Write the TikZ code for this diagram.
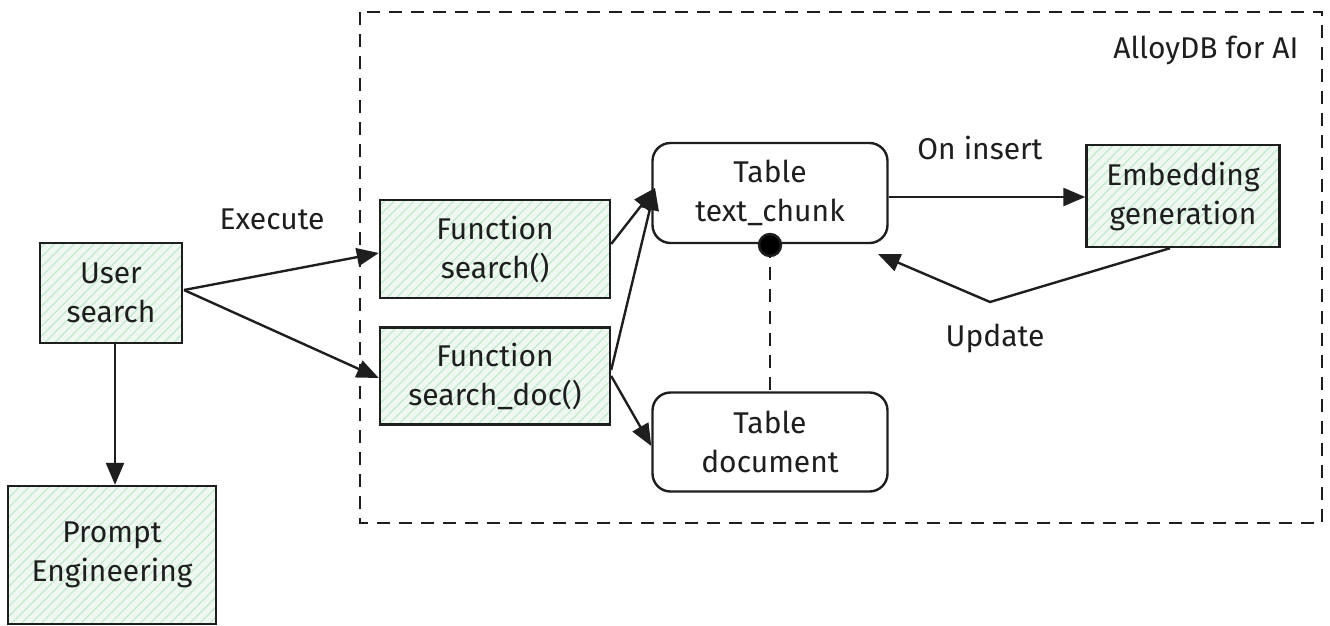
\documentclass[tikz,border=0pt]{standalone}
\usepackage{fontspec}
\setmainfont{Fira Sans}
\usetikzlibrary{arrows.meta,patterns.meta,positioning}
\definecolor{ink}{HTML}{1E1E1E}
\definecolor{mint}{HTML}{EEF8F1}
\definecolor{hatch}{HTML}{C4E8CD}
\tikzset{
  ink/.style={draw=ink, line width=2.4pt},
  txt/.style={font=\fontsize{30}{39}\selectfont, text=ink},
  greenbox/.style={ink, txt, rectangle, align=center,
    preaction={fill=mint},
    pattern={Lines[angle=45,distance=7pt,line width=1.2pt]}, pattern color=hatch},
  tablebox/.style={ink, txt, rectangle, rounded corners=18pt, fill=white, align=center},
  lbl/.style={txt},
  conn/.style={ink, -{Triangle[length=22pt,width=18pt]}},
}
\begin{document}
\begin{tikzpicture}[x=1pt,y=-1pt]
\useasboundingbox (0,0) rectangle (1330,625);

% system boundary
\draw[ink, dash pattern=on 13pt off 9pt] (360,12) rectangle (1322,523);
\node[lbl, anchor=east] (sys) at (1302,50) {AlloyDB for AI};

% boxes, sized by corner points
\node[greenbox, minimum width=142pt, minimum height=100pt] (user) at (111,293) {User\\search};
\node[greenbox, minimum width=208pt, minimum height=138pt] (prompt) at (112,555) {Prompt\\Engineering};
\node[greenbox, minimum width=230pt, minimum height=98pt] (fsearch) at (495,249) {Function\\search()};
\node[greenbox, minimum width=230pt, minimum height=97pt] (fdoc) at (495,376) {Function\\search\_doc()};
\node[tablebox, minimum width=235pt, minimum height=100pt] (chunk) at (770,193) {Table\\text\_chunk};
\node[tablebox, minimum width=235pt, minimum height=99pt] (doc) at (770,442) {Table\\document};
\node[greenbox, minimum width=193pt, minimum height=102pt] (embed) at (1183,196) {Embedding\\generation};

% anchors for arrow ends
\coordinate (userR) at (184,290);
\coordinate (chunkIn) at (655,188);
\coordinate (bend) at (990,302);
\coordinate (dotc) at (770,245);

% connectors
\draw[conn] (user.south -| 115,0) -- (prompt.north -| 115,0);
\draw[conn] (userR) -- (fsearch.west |- 0,253);
\draw[conn] (userR) -- (fdoc.west |- 0,378);
\draw[conn] (fsearch.east |- 0,244) -- (chunkIn);
\draw[conn] (fdoc.east |- 0,370) -- (chunkIn);
\draw[conn] (fdoc.east |- 0,376) -- (doc.west |- 0,446);
\draw[conn] (chunk.east |- 0,197) -- (embed.west |- 0,197);
\draw[conn] (embed.south -| 1170,0) -- (bend) -- (878,254);

% relation between the two tables
\draw[ink, dash pattern=on 13pt off 9pt] (dotc) -- (doc.north);
\fill[ink] (dotc) circle (11pt);

% labels
\node[lbl] (lexec) at (272,219) {Execute};
\node[lbl] (lins) at (980,148) {On insert};
\node[lbl] (lupd) at (995,338) {Update};
\end{tikzpicture}
\end{document}
